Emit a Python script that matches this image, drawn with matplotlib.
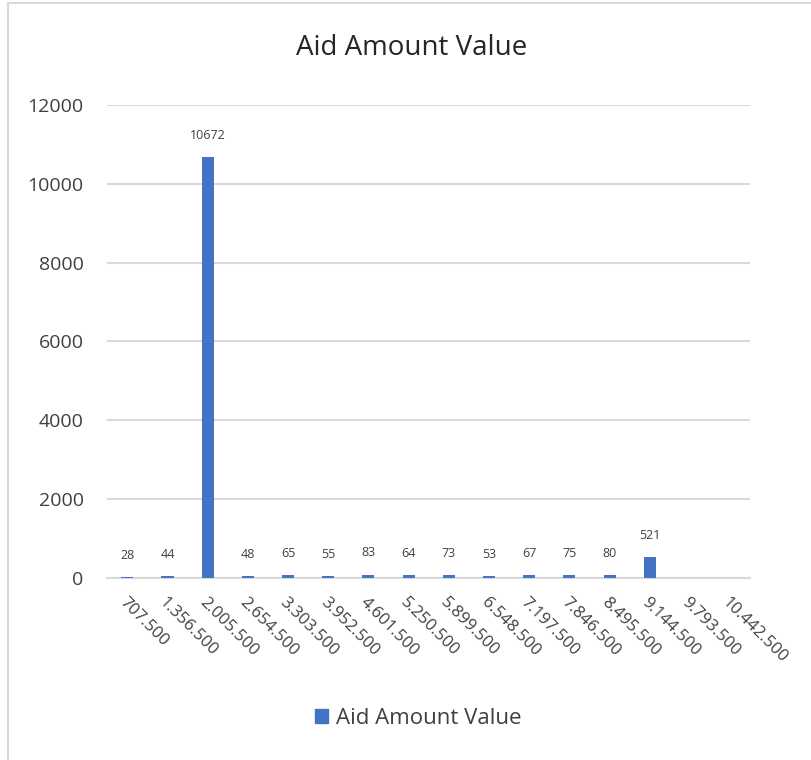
#!/usr/bin/env python3

"""Histogram of aid amounts, Excel-style column chart"""

import numpy as np
import matplotlib as mpl
from matplotlib import pyplot as plt
from matplotlib.patches import Rectangle

mpl.use("Agg")

bins = [
    "707.500", "1.356.500", "2.005.500", "2.654.500", "3.303.500",
    "3.952.500", "4.601.500", "5.250.500", "5.899.500", "6.548.500",
    "7.197.500", "7.846.500", "8.495.500", "9.144.500", "9.793.500",
    "10.442.500",
]
counts = [28, 44, 10672, 48, 65, 55, 83, 64, 73, 53, 67, 75, 80, 521, np.nan, np.nan]
series_name = "Aid Amount Value"
y_ticks = [0, 2000, 4000, 6000, 8000, 10000, 12000]

bar_color = "#4472C4"
grid_color = "#d9d9d9"
text_color = "#404040"

plt.rcParams["font.family"] = ["Open Sans", "DejaVu Sans"]

fig = plt.figure(figsize=(8.12, 7.6), dpi=100)
ax = fig.add_axes([0.132, 0.2395, 0.792, 0.6225])

x = np.arange(len(bins))
vals = np.array(counts, dtype=float)
ax.bar(x, np.nan_to_num(vals), width=0.3, color=bar_color, label=series_name, zorder=3)

for xi, v in zip(x, vals):
    if np.isnan(v):
        continue
    ax.annotate(f"{int(v)}", (xi, v), xytext=(0, 11), textcoords="offset points",
                ha="center", va="bottom", fontsize=9, color=text_color)

ax.set_xlim(-0.5, len(bins) - 0.5)
ax.set_ylim(0, 12000)
ax.set_yticks(y_ticks)
ax.set_yticklabels([str(t) for t in y_ticks], fontsize=14, color=text_color)
ax.set_xticks(x)
ax.set_xticklabels(bins, rotation=-45, ha="left", va="top", rotation_mode="anchor",
                   fontsize=12, color=text_color)
ax.tick_params(axis="both", length=0)
ax.tick_params(axis="y", pad=17)
ax.tick_params(axis="x", pad=12)

ax.grid(axis="y", color=grid_color, linewidth=1.5, zorder=0)
for side in ["top", "right", "left"]:
    ax.spines[side].set_visible(False)
ax.spines["bottom"].set_color(grid_color)
ax.spines["bottom"].set_linewidth(1.5)

fig.text(0.507, 0.937, "Aid Amount Value", ha="center", va="center",
         fontsize=20, color="#262626")

fig.legend(handles=[Rectangle((0, 0), 1, 1, color=bar_color)], labels=[series_name],
           loc="center", bbox_to_anchor=(0.515, 0.055), frameon=False,
           fontsize=16, handlelength=0.6, handleheight=0.6, handletextpad=0.35,
           labelcolor=text_color)

# outer chart frame
fig.add_artist(Rectangle((8 / 812, -0.01), 1.0, 1 - 3 / 760 + 0.01,
                         transform=fig.transFigure, fill=False,
                         edgecolor=grid_color, linewidth=1.5))

fig.savefig("out.png", dpi=100)
